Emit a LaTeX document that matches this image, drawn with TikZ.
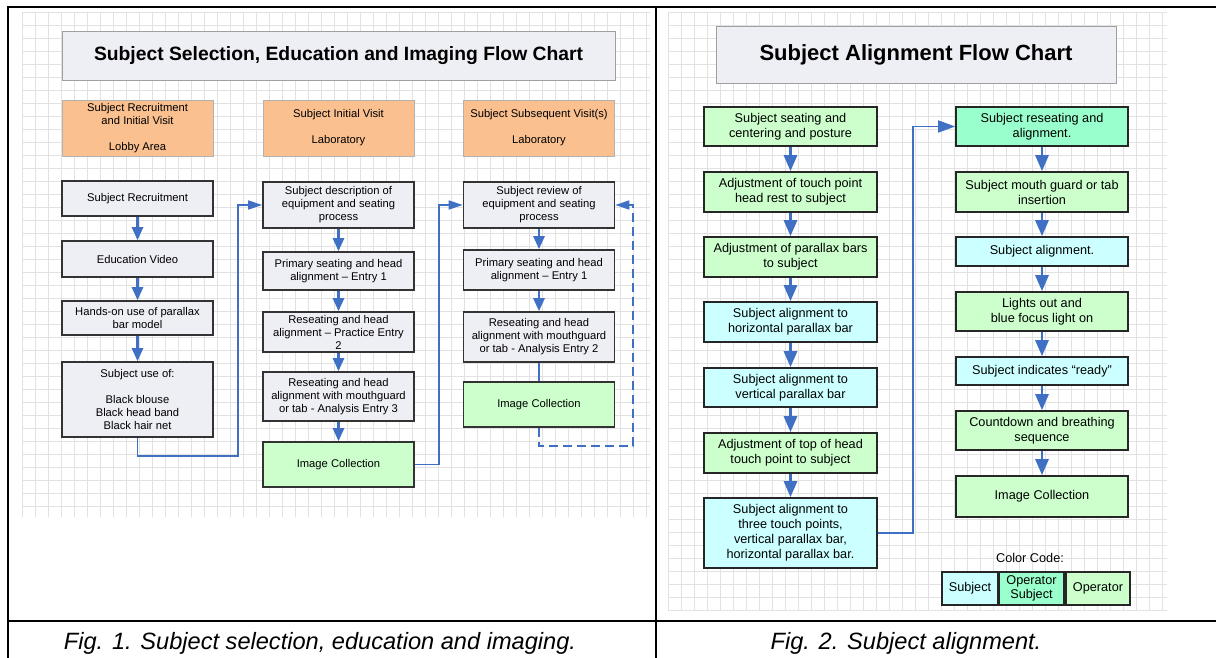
\documentclass[tikz,border=0pt]{standalone}
\usepackage{fontspec}
\setmainfont{Liberation Sans}
\usetikzlibrary{positioning,arrows.meta}
\definecolor{flowblue}{HTML}{4070C4}
\definecolor{lav}{HTML}{EEEEF5}
\definecolor{visit}{HTML}{FAC08F}
\definecolor{operator}{HTML}{CCFFCC}
\definecolor{subject}{HTML}{CCFFFF}
\definecolor{opsubject}{HTML}{99FFCC}
\definecolor{gridc}{HTML}{E2E2E2}

\begin{document}
\begin{tikzpicture}[x=1pt, y=-1pt,
  every node/.style={font=\fontsize{11.2}{13}\selectfont, align=center, inner sep=1pt},
  headline/.style={draw=gray!75, fill=lav, line width=0.8pt, font=\fontsize{19.3}{22}\selectfont\bfseries},
  visitbox/.style={draw=gray!60, fill=visit, line width=0.6pt, minimum width=151pt, minimum height=56pt},
  stepbox/.style={draw=black!80, fill=#1, line width=1.6pt, minimum width=151pt},
  stepbox/.default=lav,
  alignbox/.style={draw=black!85, fill=#1, line width=1.6pt, minimum width=173pt,
    font=\fontsize{12.7}{15}\selectfont},
  keybox/.style={draw=black!85, fill=#1, line width=1.4pt, minimum height=33pt,
    font=\fontsize{12.7}{14}\selectfont},
  arrow/.style={-{Triangle[length=13pt,width=11pt]}, line width=2.6pt, flowblue},
  bigarrow/.style={-{Triangle[length=16pt,width=13pt]}, line width=2.8pt, flowblue},
  link/.style={-{Triangle[length=14pt,width=9pt]}, line width=1.6pt, flowblue},
  gridline/.style={gridc, line width=0.5pt},
  frame/.style={line width=2pt, black},
  caption/.style={font=\fontsize{23.6}{26}\selectfont\itshape, anchor=base},
]
  \useasboundingbox (0,0) rectangle (1216,658);

  \foreach \gx in {22,35,...,650} \draw[gridline] (\gx,12) -- (\gx,517);
  \foreach \gy in {12,25,...,517} \draw[gridline] (22,\gy) -- (650,\gy);
  \foreach \gx in {668,681,...,1167} \draw[gridline] (\gx,12) -- (\gx,610);
  \foreach \gy in {12,25,...,610} \draw[gridline] (668,\gy) -- (1167,\gy);

  \draw[frame] (8,658) -- (8,7) -- (1216,7);
  \draw[frame] (656,7) -- (656,658);
  \draw[frame] (8,621) -- (1216,621);

  \node[headline, minimum width=553pt, minimum height=49pt] (title1) at (338.5,55.5)
    {Subject Selection, Education and Imaging Flow Chart};

  \node[visitbox] (visit1) at (137.5,128) {Subject Recruitment\\and Initial Visit\\[13pt]Lobby Area};
  \node[visitbox] (visit2) at (338.5,128) {Subject Initial Visit\\[13pt]Laboratory};
  \node[visitbox] (visit3) at (539,128) {Subject Subsequent Visit(s)\\[13pt]Laboratory};

  \node[stepbox, minimum height=35pt] (rec) at (137.5,198.5) {Subject Recruitment};
  \node[stepbox, minimum height=36pt] (video) at (137.5,259) {Education Video};
  \node[stepbox, minimum height=34pt] (model) at (137.5,318) {Hands-on use of parallax\\bar model};
  \node[stepbox, minimum height=75pt] (wear) at (137.5,399.5)
    {Subject use of:\\[13pt]Black blouse\\Black head band\\Black hair net};

  \node[stepbox, minimum height=46pt] (desc) at (338.5,205) {Subject description of\\equipment and seating\\process};
  \node[stepbox, minimum height=38pt] (prim1) at (338.5,271) {Primary seating and head\\alignment – Entry 1};
  \node[stepbox, minimum height=40pt] (prac) at (338.5,332) {Reseating and head\\alignment – Practice Entry\\2};
  \node[stepbox, minimum height=49pt] (anal3) at (338.5,396.5) {Reseating and head\\alignment with mouthguard\\or tab - Analysis Entry 3};
  \node[stepbox=operator, minimum height=45pt] (img1) at (338.5,464.5) {Image Collection};

  \node[stepbox, minimum height=46pt] (review) at (539,205) {Subject review of\\equipment and seating\\process};
  \node[stepbox, minimum height=40pt] (prim2) at (539,270) {Primary seating and head\\alignment – Entry 1};
  \node[stepbox, minimum height=50pt] (anal2) at (539,337) {Reseating and head\\alignment with mouthguard\\or tab - Analysis Entry 2};
  \node[stepbox=operator, minimum height=45pt] (img2) at (539,404.5) {Image Collection};

  \coordinate (j1) at (238,456);
  \coordinate (j2) at (439,464.5);
  \coordinate (j3) at (633,446);

  \draw[arrow] (rec) -- (video);
  \draw[arrow] (video) -- (model);
  \draw[arrow] (model) -- (wear);
  \draw[link] (wear.south) |- (j1) |- (desc.west);
  \draw[arrow] (desc) -- (prim1);
  \draw[arrow] (prim1) -- (prac);
  \draw[arrow] (prac) -- (anal3);
  \draw[arrow] (anal3) -- (img1);
  \draw[link] (img1.east) -- (j2) |- (review.west);
  \draw[arrow] (review) -- (prim2);
  \draw[arrow] (prim2) -- (anal2);
  \draw[line width=1.6pt, flowblue] (anal2) -- (img2);
  \draw[link, dash pattern=on 9pt off 5pt] (img2.south) |- (j3) |- (review.east);

  \node[headline, minimum width=400pt, minimum height=57pt, font=\fontsize{22}{24}\selectfont\bfseries]
    (title2) at (916,54.5) {Subject Alignment Flow Chart};

  \node[alignbox=operator, minimum height=39pt] (seat) at (790.5,126.5) {Subject seating and\\centering and posture};
  \node[alignbox=operator, minimum height=40pt] (rest) at (790.5,192) {Adjustment of touch point\\head rest to subject};
  \node[alignbox=operator, minimum height=40pt] (bars) at (790.5,257) {Adjustment of parallax bars\\to subject};
  \node[alignbox=subject, minimum height=40pt] (hbar) at (790.5,322) {Subject alignment to\\horizontal parallax bar};
  \node[alignbox=subject, minimum height=39pt] (vbar) at (790.5,387.5) {Subject alignment to\\vertical parallax bar};
  \node[alignbox=operator, minimum height=40pt] (top) at (790.5,453) {Adjustment of top of head\\touch point to subject};
  \node[alignbox=subject, minimum height=70pt] (three) at (790.5,533)
    {Subject alignment to\\three touch points,\\vertical parallax bar,\\horizontal parallax bar.};

  \node[alignbox=opsubject, minimum width=172pt, minimum height=39pt] (reseat) at (1042,126.5) {Subject reseating and\\alignment.};
  \node[alignbox=operator, minimum width=172pt, minimum height=40pt] (guard) at (1042,192) {Subject mouth guard or tab\\insertion};
  \node[alignbox=subject, minimum width=172pt, minimum height=29pt] (align) at (1042,251.5) {Subject alignment.};
  \node[alignbox=operator, minimum width=172pt, minimum height=39pt] (lights) at (1042,311.5) {Lights out and\\blue focus light on};
  \node[alignbox=subject, minimum width=172pt, minimum height=28pt] (ready) at (1042,371) {Subject indicates ``ready''};
  \node[alignbox=operator, minimum width=172pt, minimum height=39pt] (count) at (1042,430.5) {Countdown and breathing\\sequence};
  \node[alignbox=operator, minimum width=172pt, minimum height=41pt] (img3) at (1042,496.5) {Image Collection};

  \coordinate (j4) at (913,533);

  \draw[bigarrow] (seat) -- (rest);
  \draw[bigarrow] (rest) -- (bars);
  \draw[bigarrow] (bars) -- (hbar);
  \draw[bigarrow] (hbar) -- (vbar);
  \draw[bigarrow] (vbar) -- (top);
  \draw[bigarrow] (top) -- (three);
  \draw[link, -{Triangle[length=17pt,width=12pt]}] (three.east) -- (j4) |- (reseat.west);
  \draw[bigarrow] (reseat) -- (guard);
  \draw[bigarrow] (guard) -- (align);
  \draw[bigarrow] (align) -- (lights);
  \draw[bigarrow] (lights) -- (ready);
  \draw[bigarrow] (ready) -- (count);
  \draw[bigarrow] (count) -- (img3);

  \node[font=\fontsize{12.7}{15}\selectfont] (code) at (1030,558) {Color Code:};
  \node[keybox=subject, minimum width=56pt] (keysub) at (970,588.5) {Subject};
  \node[keybox=opsubject, minimum width=65pt] (keyboth) at (1031.5,588.5) {Operator\\Subject};
  \node[keybox=operator, minimum width=64pt] (keyop) at (1098,588.5) {Operator};

  \node[caption] (cap1) at (320,649) {Fig. 1. Subject selection, education and imaging.};
  \node[caption] (cap2) at (906,649) {Fig. 2. Subject alignment.};
\end{tikzpicture}
\end{document}
